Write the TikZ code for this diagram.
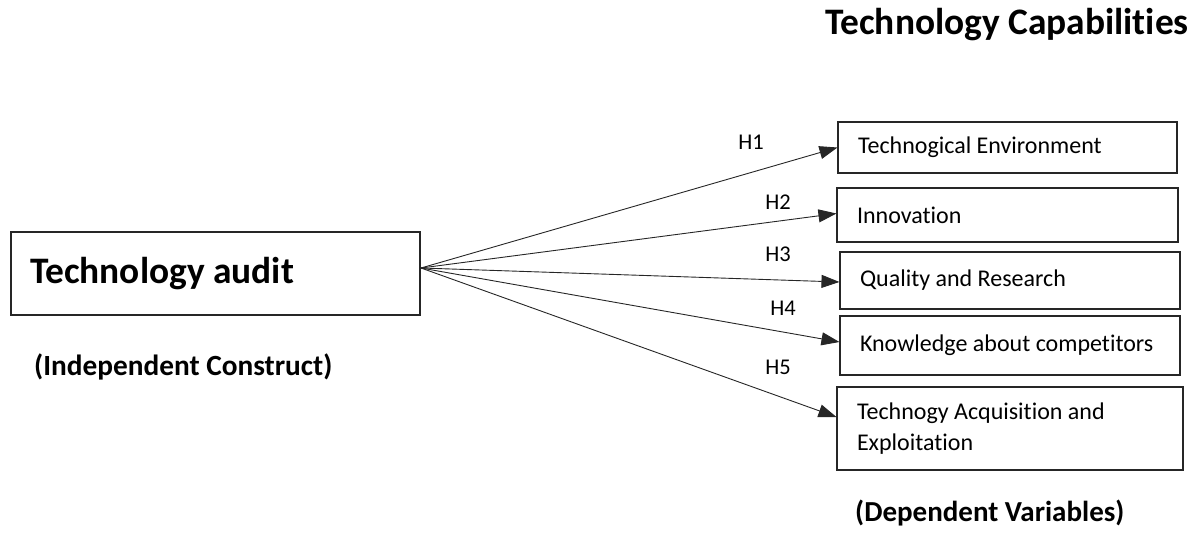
\documentclass[tikz,border=0pt]{standalone}
\usepackage{fontspec}
\setmainfont{Carlito}[Ligatures=NoCommon]
\usetikzlibrary{arrows.meta}
\begin{document}
\begin{tikzpicture}[x=1pt,y=-1pt,
  box/.style={draw=black!85,line width=1.1pt,align=flush left,inner ysep=0pt,anchor=center},
  conn/.style={draw=black!85,line width=0.9pt,-{Triangle[length=18pt,width=13pt]}},
  hlab/.style={font=\fontsize{22.5}{24}\selectfont,inner sep=0pt},
  boxtext/.style={font=\fontsize{24}{31}\selectfont},
  headline/.style={font=\bfseries\fontsize{37.4}{40}\selectfont,inner sep=0pt,anchor=west},
  subline/.style={font=\bfseries\fontsize{29.3}{34}\selectfont,inner sep=0pt,anchor=west}]
\useasboundingbox (0,0) rectangle (1191,533);
\node[headline] (title) at (825,25) {Technology Capabilities};
\node[box,font=\bfseries\fontsize{37.4}{40}\selectfont,text width=371pt,inner xsep=19pt,minimum height=83pt] (audit) at (215.5,273.5) {Technology audit};
\node[subline] (indep) at (34,367) {(Independent Construct)};
\node[box,boxtext,text width=299pt,inner xsep=20pt,minimum height=51pt] (b1) at (1007.5,147.5) {Technogical Environment};
\node[box,boxtext,text width=301pt,inner xsep=20pt,minimum height=54pt] (b2) at (1007.5,215) {Innovation};
\node[box,boxtext,text width=300pt,inner xsep=20pt,minimum height=57pt] (b3) at (1010,280.5) {Quality and Research};
\node[box,boxtext,text width=300pt,inner xsep=20pt,minimum height=59pt] (b4) at (1010,345.5) {Knowledge about competitors};
\node[box,boxtext,text width=306pt,inner xsep=20pt,minimum height=83pt] (b5) at (1010,428.5) {Technogy Acquisition and\\Exploitation};
\node[subline,font=\bfseries\fontsize{29}{34}\selectfont] (dep) at (855,513) {(Dependent Variables)};
\coordinate (src) at (421,268);
\draw[conn] (src) -- (b1.west);
\draw[conn] (src) -- ([yshift=1.5pt]b2.west);
\draw[conn] (src) -- ([yshift=-1.5pt]b3.west);
\draw[conn] (src) -- ([yshift=3.5pt]b4.west);
\draw[conn] (src) -- ([yshift=11.5pt]b5.west);
\node[hlab] (h1) at (751,142) {H1};
\node[hlab] (h2) at (778,202) {H2};
\node[hlab] (h3) at (778,254) {H3};
\node[hlab] (h4) at (783,308) {H4};
\node[hlab] (h5) at (778,367) {H5};
\end{tikzpicture}
\end{document}
